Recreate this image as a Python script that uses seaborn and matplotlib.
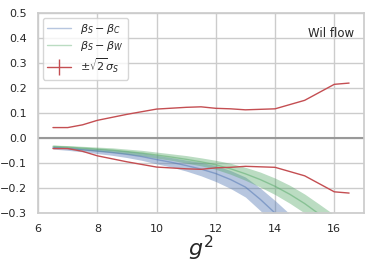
import numpy as np
import seaborn as sns
import matplotlib
matplotlib.use("Agg")
import matplotlib.pyplot as plt
from matplotlib.lines import Line2D

# beta_S - beta_C band
g2_c = [6.5, 7, 7.5, 8, 8.5, 9, 9.5, 10, 10.5, 11, 11.5, 12, 12.5, 13, 13.5, 14, 14.5]
diff_c = [-0.038, -0.042, -0.047, -0.052, -0.058, -0.065, -0.074, -0.086, -0.097,
          -0.110, -0.124, -0.142, -0.166, -0.196, -0.245, -0.300, -0.360]
err_c = [0.006, 0.007, 0.008, 0.010, 0.011, 0.013, 0.015, 0.017, 0.019,
         0.022, 0.027, 0.032, 0.036, 0.040, 0.045, 0.050, 0.056]

# beta_S - beta_W band
g2_w = [6.5, 7, 7.5, 8, 8.5, 9, 9.5, 10, 10.5, 11, 11.5, 12, 12.5, 13, 13.5, 14, 14.5, 15, 15.5, 16]
diff_w = [-0.033, -0.036, -0.040, -0.044, -0.048, -0.054, -0.060, -0.068, -0.076, -0.085,
          -0.095, -0.107, -0.123, -0.143, -0.166, -0.193, -0.225, -0.262, -0.305, -0.350]
err_w = [0.005, 0.006, 0.007, 0.008, 0.009, 0.010, 0.011, 0.012, 0.013, 0.015,
         0.016, 0.018, 0.022, 0.026, 0.030, 0.033, 0.036, 0.038, 0.040, 0.043]

# sqrt(2) sigma_S
g2_s = [6.5, 7, 7.5, 8, 9, 10, 11, 11.5, 12, 12.5, 13, 14, 15, 16, 16.5]
sig_s = [0.042, 0.042, 0.053, 0.071, 0.095, 0.116, 0.123, 0.125, 0.119, 0.117,
         0.113, 0.117, 0.151, 0.215, 0.220]

sns.set_theme(style="whitegrid")
pal = sns.color_palette("deep")
blue, green, red = pal[0], pal[2], pal[3]

fig = plt.figure(figsize=(3.74, 2.67), dpi=100)
ax = fig.add_axes([0.102, 0.202, 0.871, 0.749])

x = np.array(g2_c)
ax.fill_between(x, np.array(diff_c) - err_c, np.array(diff_c) + err_c, color=blue, alpha=0.4, lw=0)
ax.plot(x, diff_c, color=blue, alpha=0.5, lw=1)

x = np.array(g2_w)
ax.fill_between(x, np.array(diff_w) - err_w, np.array(diff_w) + err_w, color=green, alpha=0.4, lw=0)
ax.plot(x, diff_w, color=green, alpha=0.5, lw=1)

s = np.array(sig_s)
ax.plot(g2_s, s, color=red, lw=1)
ax.plot(g2_s, -s, color=red, lw=1)

ax.axhline(0, color="#999999", lw=1.5, zorder=1)

ax.set_xlim(6, 17)
ax.set_ylim(-0.3, 0.5)
ax.set_xticks([6, 8, 10, 12, 14, 16])
ax.set_yticks([-0.3, -0.2, -0.1, 0.0, 0.1, 0.2, 0.3, 0.4, 0.5])
ax.tick_params(labelsize=8, pad=2)
ax.set_xlabel("$g^2$", fontsize=16, labelpad=0)
for sp in ax.spines.values():
    sp.set_color("#cccccc")

ax.text(0.969, 0.90, "Wil flow", transform=ax.transAxes, ha="right", va="center", fontsize=8.5)

handles = [
    Line2D([], [], color=blue, alpha=0.4, lw=1),
    Line2D([], [], color=green, alpha=0.4, lw=1),
    Line2D([], [], color=red, lw=1, marker="|", markersize=12, markeredgewidth=1),
]
labels = [r"$\beta_S - \beta_C$", r"$\beta_S - \beta_W$", r"$\pm\sqrt{2}\sigma_S$"]
ax.legend(handles, labels, loc="upper left", fontsize=8, frameon=True, numpoints=1,
          borderaxespad=0.4, handlelength=2.2, labelspacing=0.3)

fig.savefig("out.png", dpi=100)
